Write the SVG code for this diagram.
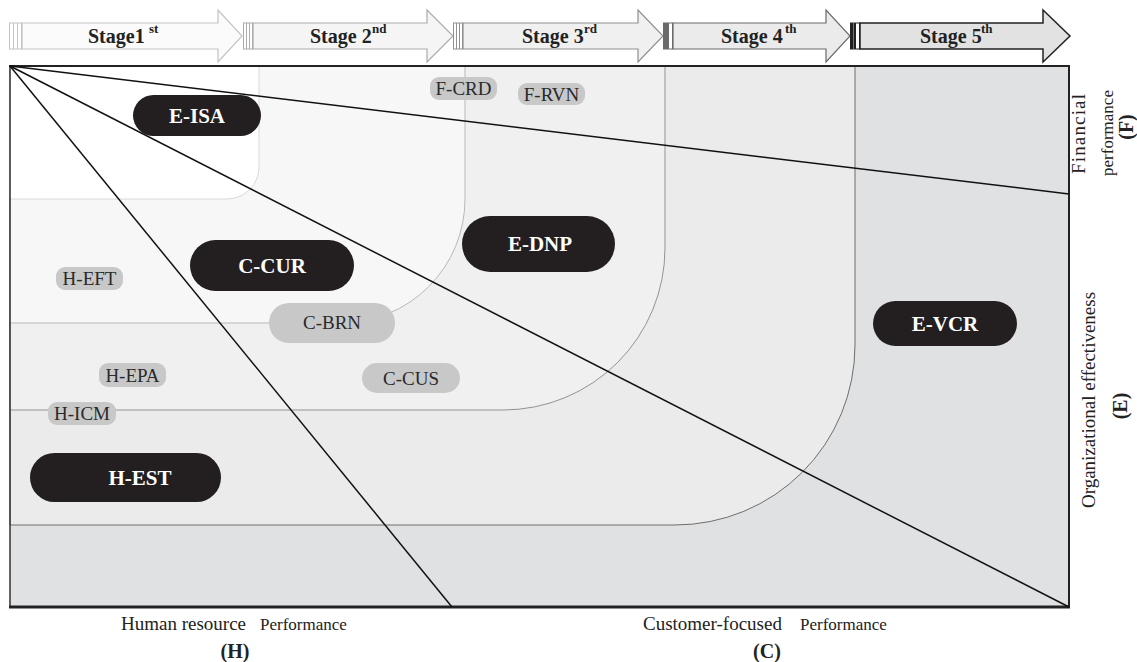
<svg xmlns="http://www.w3.org/2000/svg" width="1137" height="662" viewBox="0 0 1137 662">
<style>
text{font-family:"Liberation Serif","Times New Roman",serif;}
.st{font-size:20px;font-weight:bold;fill:#222;}
.sup{font-size:13px;font-weight:bold;fill:#222;}
.dk rect{fill:#231f20;}
.dk text{fill:#fff;font-size:21px;font-weight:bold;text-anchor:middle;}
.lt rect{fill:#c8c8c9;}
.lt text{fill:#2a2a2a;font-size:19px;text-anchor:middle;}
.lbl{font-size:19px;fill:#222;}
.lbls{font-size:17px;fill:#222;}
.bld{font-size:20px;font-weight:bold;fill:#222;text-anchor:middle;}
.diag{stroke:#111;stroke-width:1.5;fill:none;}
</style>
<rect width="1137" height="662" fill="#fff"/>
<!-- stage arrows -->
<g id="stage1">
<path d="M22,23 H218 V10 L242,36 L218,62 V49 H22 Z" fill="#fbfbfb" stroke="#c4c4c4" stroke-width="1.2"/>
<rect x="9.5" y="23" width="12" height="26" fill="#fff" stroke="#c4c4c4"/>
<line x1="13.5" y1="23" x2="13.5" y2="49" stroke="#c4c4c4"/><line x1="17.5" y1="23" x2="17.5" y2="49" stroke="#c4c4c4"/>
<text class="st" x="88" y="43">Stage1</text><text class="sup" x="149" y="33">st</text>
</g>
<g id="stage2">
<path d="M253,23 H427 V10 L453,36 L427,62 V49 H253 Z" fill="#f5f5f5" stroke="#acacac" stroke-width="1.2"/>
<rect x="243.5" y="23" width="9" height="26" fill="#fff" stroke="#acacac"/>
<line x1="246.5" y1="23" x2="246.5" y2="49" stroke="#acacac"/><line x1="249.5" y1="23" x2="249.5" y2="49" stroke="#acacac"/>
<text class="st" x="310" y="43">Stage 2</text><text class="sup" x="372" y="33">nd</text>
</g>
<g id="stage3">
<path d="M463,23 H638 V10 L663,36 L638,62 V49 H463 Z" fill="#f0f0f0" stroke="#909090" stroke-width="1.2"/>
<rect x="453.5" y="23" width="9" height="26" fill="#fff" stroke="#909090"/>
<line x1="456.5" y1="23" x2="456.5" y2="49" stroke="#909090"/><line x1="459.5" y1="23" x2="459.5" y2="49" stroke="#909090"/>
<text class="st" x="522" y="43">Stage 3</text><text class="sup" x="584" y="33">rd</text>
</g>
<g id="stage4">
<path d="M673,23 H826 V10 L850,36 L826,62 V49 H673 Z" fill="#ebebeb" stroke="#6a6a6a" stroke-width="1.2"/>
<rect x="663.5" y="23" width="9" height="26" fill="#fff" stroke="#6a6a6a"/>
<rect x="664" y="23" width="5" height="26" fill="#6a6a6a"/>
<text class="st" x="721" y="43">Stage 4</text><text class="sup" x="785" y="33">th</text>
</g>
<g id="stage5">
<path d="M860,23 H1043 V10 L1070,36 L1043,62 V49 H860 Z" fill="#e2e2e3" stroke="#222" stroke-width="1.5"/>
<rect x="850.5" y="23" width="9" height="26" fill="#fff" stroke="#222"/>
<rect x="851" y="23" width="5" height="26" fill="#222"/>
<line x1="853.5" y1="23" x2="853.5" y2="49" stroke="#888" stroke-width="0.8"/>
<text class="st" x="920" y="43">Stage 5</text><text class="sup" x="981" y="33">th</text>
</g>
<!-- regions -->
<g id="regions">
<rect x="10" y="66" width="1059" height="541" fill="#e0e1e2"/>
<path d="M10,66 H855 V345 A180,180 0 0 1 675,525 H10 Z" fill="#ebebec" stroke="#6e6e6e" stroke-width="1"/>
<path d="M10,66 H665 V248 A162,162 0 0 1 503,410 H10 Z" fill="#f0f0f0" stroke="#939393" stroke-width="1"/>
<path d="M10,66 H465 V199 A124,124 0 0 1 341,323 H10 Z" fill="#f7f7f7" stroke="#b8b8b8" stroke-width="1"/>
<path d="M10,66 H259 V167 A32,32 0 0 1 227,199 H10 Z" fill="#ffffff" stroke="#d8d8d8" stroke-width="1"/>
</g>
<g id="frame">
<rect x="10" y="66" width="1059" height="541" fill="none" stroke="#333" stroke-width="1.5"/>
<line x1="9" y1="66" x2="1070" y2="66" stroke="#222" stroke-width="2"/>
<line x1="1069" y1="66" x2="1069" y2="608" stroke="#222" stroke-width="2"/>
<line x1="9" y1="607" x2="1070" y2="607" stroke="#222" stroke-width="3"/>
</g>
<g id="connectors">
<line class="diag" x1="10" y1="66" x2="1069" y2="194"/>
<line class="diag" x1="10" y1="66" x2="1069" y2="607"/>
<line class="diag" x1="10" y1="66" x2="452" y2="607"/>
</g>
<!-- nodes -->
<g id="E-ISA" class="dk"><rect x="133" y="95" width="128" height="41" rx="20.5"/><text x="197" y="123">E-ISA</text></g>
<g id="C-CUR" class="dk"><rect x="190" y="240" width="164" height="51" rx="25.5"/><text x="272" y="273">C-CUR</text></g>
<g id="E-DNP" class="dk"><rect x="462" y="216" width="153" height="56" rx="28"/><text x="540" y="251">E-DNP</text></g>
<g id="E-VCR" class="dk"><rect x="873" y="301" width="144" height="45" rx="22.5"/><text x="945" y="331">E-VCR</text></g>
<g id="H-EST" class="dk"><rect x="30" y="453" width="191" height="49" rx="24.5"/><text x="140" y="485">H-EST</text></g>
<g id="F-CRD" class="lt"><rect x="430" y="77" width="67" height="23" rx="9"/><text x="463.5" y="95">F-CRD</text></g>
<g id="F-RVN" class="lt"><rect x="518" y="83" width="67" height="22" rx="9"/><text x="551.5" y="101">F-RVN</text></g>
<g id="H-EFT" class="lt"><rect x="56" y="267" width="67" height="23" rx="9"/><text x="89.5" y="285">H-EFT</text></g>
<g id="C-BRN" class="lt"><rect x="269" y="303" width="126" height="40" rx="20"/><text x="332" y="329">C-BRN</text></g>
<g id="H-EPA" class="lt"><rect x="99" y="363" width="67" height="24" rx="9"/><text x="132.5" y="382">H-EPA</text></g>
<g id="C-CUS" class="lt"><rect x="362" y="363" width="98" height="30" rx="15"/><text x="411" y="385">C-CUS</text></g>
<g id="H-ICM" class="lt"><rect x="48" y="402" width="68" height="23" rx="9"/><text x="82" y="420">H-ICM</text></g>
<!-- axis labels -->
<g id="labels">
<text class="lbl" x="121" y="630">Human resource</text><text class="lbls" x="260" y="630">Performance</text>
<text class="bld" x="235" y="658">(H)</text>
<text class="lbl" x="643" y="630">Customer-focused</text><text class="lbls" x="800" y="630">Performance</text>
<text class="bld" x="767" y="658">(C)</text>
<text class="lbl" transform="translate(1085,134) rotate(-90)" text-anchor="middle" textLength="80" lengthAdjust="spacing">Financial</text>
<text class="lbls" transform="translate(1113,133) rotate(-90)" text-anchor="middle">performance</text>
<text class="bld" transform="translate(1133,127) rotate(-90)">(F)</text>
<text class="lbl" transform="translate(1095,400) rotate(-90)" text-anchor="middle">Organizational effectiveness</text>
<text class="bld" transform="translate(1127,406) rotate(-90)">(E)</text>
</g>
</svg>
